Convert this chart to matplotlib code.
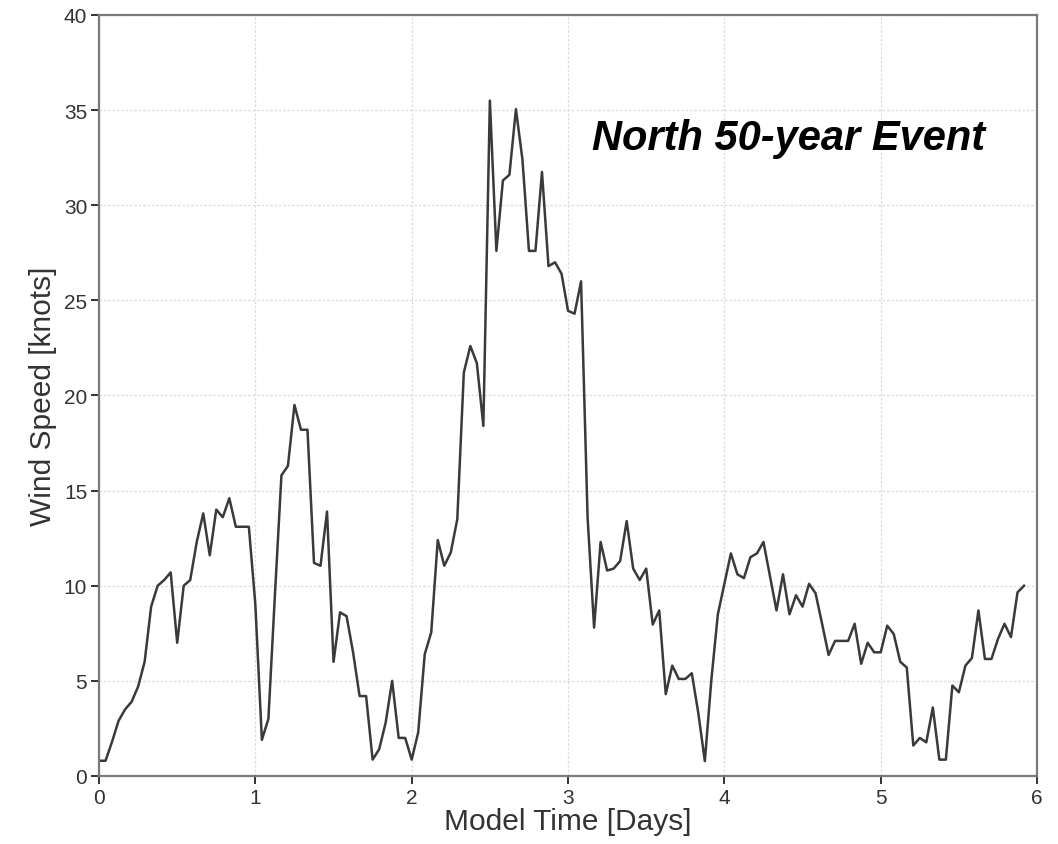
import matplotlib
matplotlib.use("Agg")
import matplotlib.pyplot as plt
import numpy as np

plt.rcParams['font.family'] = ['Liberation Sans', 'DejaVu Sans']

# hourly model output, hour index from start of run
hours = np.arange(0, 143)
wind_knots = [
    0.8, 0.8, 1.8, 2.9, 3.5, 3.9, 4.7, 6.0, 8.9, 10.0,
    10.3, 10.7, 7.0, 10.0, 10.3, 12.3, 13.8, 11.6, 14.0, 13.6,
    14.6, 13.1, 13.1, 13.1, 9.0, 1.9, 3.0, 9.5, 15.8, 16.3,
    19.5, 18.2, 18.2, 11.2, 11.05, 13.9, 6.0, 8.6, 8.4, 6.5,
    4.2, 4.2, 0.86, 1.4, 2.8, 5.0, 2.0, 2.0, 0.86, 2.3,
    6.4, 7.55, 12.4, 11.05, 11.75, 13.5, 21.2, 22.6, 21.7, 18.4,
    35.5, 27.6, 31.3, 31.6, 35.05, 32.4, 27.6, 27.6, 31.75, 26.8,
    27.0, 26.4, 24.45, 24.3, 26.0, 13.6, 7.8, 12.3, 10.8, 10.9,
    11.3, 13.4, 10.9, 10.3, 10.9, 7.96, 8.7, 4.3, 5.8, 5.1,
    5.1, 5.4, 3.3, 0.78, 5.05, 8.5, 10.1, 11.7, 10.6, 10.4,
    11.5, 11.7, 12.3, 10.5, 8.7, 10.6, 8.5, 9.5, 8.9, 10.1,
    9.6, 8.0, 6.36, 7.1, 7.1, 7.1, 8.0, 5.9, 7.0, 6.5,
    6.5, 7.9, 7.46, 6.0, 5.7, 1.6, 2.0, 1.77, 3.6, 0.86,
    0.86, 4.75, 4.4, 5.8, 6.2, 8.7, 6.15, 6.15, 7.2, 8.0,
    7.3, 9.65, 10.0,
]
days = hours / 24.0

fig = plt.figure(figsize=(10.58, 8.45), dpi=100)
ax = fig.add_axes([0.0936, 0.0805, 0.8866, 0.9006])

ax.plot(days, wind_knots, color='#3a3a3a', lw=1.8)

ax.set_xlim(0, 6)
ax.set_ylim(0, 40)
ax.set_xticks(range(0, 7))
ax.set_yticks(range(0, 41, 5))
ax.grid(True, color='#dcdcdc', linestyle=(0, (2, 1.5)), lw=0.9)
ax.set_axisbelow(True)

for s in ax.spines.values():
    s.set_color('#7a7a7a')
    s.set_linewidth(1.6)

ax.tick_params(direction='out', length=5.5, width=1.4, color='#333333',
               labelsize=15, labelcolor='#333333', pad=3)

ax.set_xlabel('Model Time [Days]', fontsize=21.5, color='#333333', labelpad=0)
ax.set_ylabel('Wind Speed [knots]', fontsize=21.5, color='#333333', labelpad=5)

ax.text(4.41, 32.95, 'North 50-year Event', fontsize=30, fontweight='bold',
        fontstyle='italic', ha='center', va='baseline', color='black')

fig.savefig('out.png', dpi=100)
